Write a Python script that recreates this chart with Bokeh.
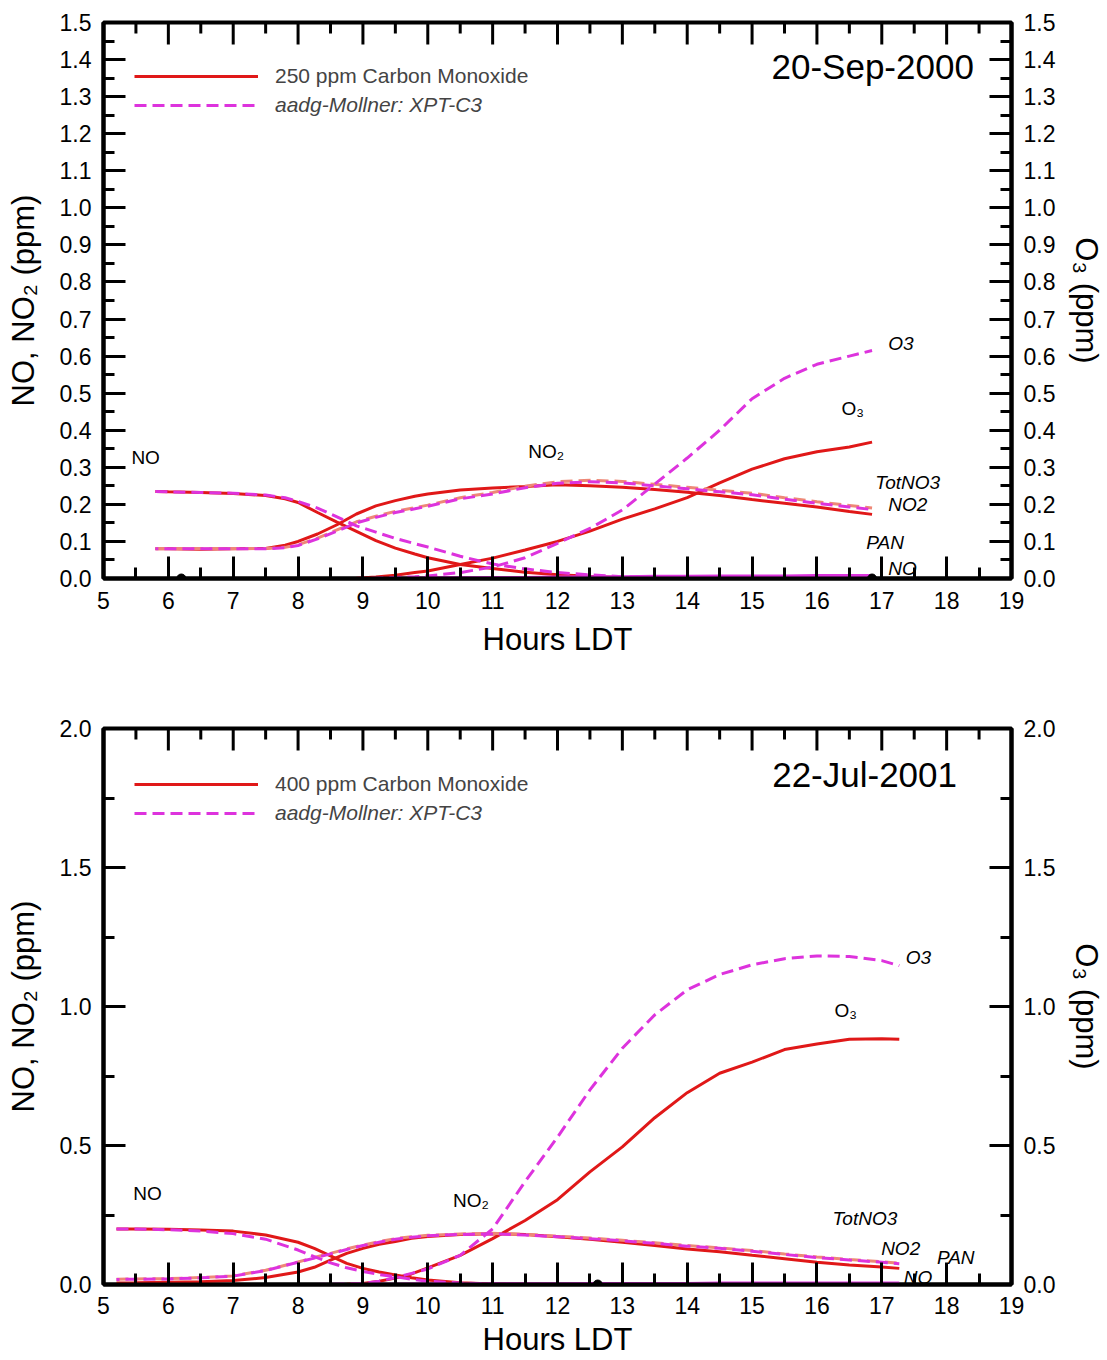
import math
from bokeh.plotting import figure
from bokeh.models import (Range1d, LinearAxis, FixedTicker, NumeralTickFormatter,
                          Legend, LegendItem)
from bokeh.layouts import column
from bokeh.embed import file_html
from bokeh.resources import INLINE
from bokeh.core.properties import value

FONT = "Liberation Sans"
RED = "#e01818"
MAGENTA = "#dd33dd"
SALMON = "#ee8877"

# ---------------- axis ticks ----------------
hour_ticks = [5, 6, 7, 8, 9, 10, 11, 12, 13, 14, 15, 16, 17, 18, 19]
hour_minor = [5.5, 6.5, 7.5, 8.5, 9.5, 10.5, 11.5, 12.5, 13.5, 14.5, 15.5, 16.5, 17.5, 18.5]
ppm_ticks_top = [0.0, 0.1, 0.2, 0.3, 0.4, 0.5, 0.6, 0.7, 0.8, 0.9, 1.0, 1.1, 1.2, 1.3, 1.4, 1.5]
ppm_minor_top = [0.05, 0.15, 0.25, 0.35, 0.45, 0.55, 0.65, 0.75, 0.85, 0.95, 1.05, 1.15, 1.25, 1.35, 1.45]
ppm_ticks_bot = [0.0, 0.5, 1.0, 1.5, 2.0]
ppm_minor_bot = [0.25, 0.75, 1.25, 1.75]

# ---------------- 20-Sep-2000 (250 ppm CO) ----------------
hours_a = [5.8, 6.0, 6.5, 7.0, 7.5, 7.8, 8.0, 8.3, 8.6, 8.9, 9.2, 9.5, 9.8, 10.0, 10.5,
           11.0, 11.5, 12.0, 12.5, 13.0, 13.5, 14.0, 14.5, 15.0, 15.5, 16.0, 16.5, 16.85]
obs_no_a = [0.235, 0.234, 0.232, 0.229, 0.224, 0.215, 0.205, 0.178, 0.152, 0.127, 0.102, 0.082,
            0.066, 0.056, 0.038, 0.027, 0.017, 0.010, 0.006, 0.003, 0.001, 0.0, 0.0, 0.0, 0.0,
            0.0, 0.0, 0.0]
obs_no2_a = [0.080, 0.080, 0.079, 0.080, 0.081, 0.090, 0.100, 0.120, 0.145, 0.174, 0.196, 0.210,
             0.222, 0.228, 0.239, 0.244, 0.248, 0.253, 0.250, 0.246, 0.240, 0.233, 0.224, 0.213,
             0.203, 0.193, 0.181, 0.173]
obs_o3_a = [0.0, 0.0, 0.0, 0.0, 0.0, 0.0, 0.0, 0.0, 0.0, 0.001, 0.004, 0.009, 0.016, 0.020, 0.038,
            0.055, 0.077, 0.100, 0.128, 0.160, 0.188, 0.218, 0.258, 0.295, 0.323, 0.342, 0.355,
            0.368]
mod_no_a = [0.235, 0.234, 0.232, 0.230, 0.225, 0.218, 0.208, 0.190, 0.166, 0.142, 0.125, 0.108,
            0.094, 0.085, 0.060, 0.039, 0.026, 0.016, 0.010, 0.005, 0.003, 0.002, 0.001, 0.001,
            0.001, 0.001, 0.001, 0.001]
mod_no2_a = [0.080, 0.080, 0.080, 0.080, 0.080, 0.083, 0.089, 0.107, 0.128, 0.150, 0.165, 0.178,
             0.188, 0.195, 0.215, 0.228, 0.245, 0.257, 0.261, 0.258, 0.250, 0.242, 0.234, 0.226,
             0.214, 0.203, 0.193, 0.186]
mod_totno3_a = [0.081, 0.081, 0.081, 0.081, 0.081, 0.084, 0.091, 0.109, 0.131, 0.153, 0.168, 0.181,
                0.191, 0.198, 0.218, 0.232, 0.249, 0.261, 0.265, 0.262, 0.254, 0.246, 0.238, 0.230,
                0.218, 0.207, 0.197, 0.190]
mod_o3_a = [0.0, 0.0, 0.0, 0.0, 0.0, 0.0, 0.0, 0.0, 0.0, 0.0, 0.001, 0.003, 0.005, 0.007, 0.016,
            0.031, 0.056, 0.095, 0.135, 0.185, 0.255, 0.325, 0.400, 0.485, 0.540, 0.578, 0.600,
            0.615]
mod_pan_a = [0.0, 0.0, 0.0, 0.0, 0.0, 0.0, 0.0, 0.0, 0.0, 0.0, 0.0, 0.001, 0.001, 0.002, 0.002,
             0.003, 0.003, 0.004, 0.005, 0.005, 0.006, 0.006, 0.007, 0.007, 0.007, 0.008, 0.008,
             0.008]
dots_hours_a = [6.2, 16.85]
dots_ppm_a = [0.0, 0.0]

# ---------------- 22-Jul-2001 (400 ppm CO) ----------------
hours_b = [5.2, 5.5, 6.0, 6.5, 7.0, 7.5, 8.0, 8.25, 8.5, 8.75, 9.0, 9.25, 9.5, 9.75, 10.0, 10.5,
           11.0, 11.5, 12.0, 12.5, 13.0, 13.5, 14.0, 14.5, 15.0, 15.5, 16.0, 16.5, 17.0, 17.27]
obs_no_b = [0.200, 0.200, 0.199, 0.196, 0.192, 0.178, 0.152, 0.130, 0.103, 0.076, 0.058, 0.045,
            0.034, 0.024, 0.016, 0.006, 0.002, 0.001, 0.0, 0.0, 0.0, 0.0, 0.0, 0.0, 0.0, 0.0,
            0.0, 0.0, 0.0, 0.0]
obs_no2_b = [0.005, 0.006, 0.008, 0.010, 0.014, 0.025, 0.045, 0.062, 0.088, 0.112, 0.130, 0.145,
             0.155, 0.166, 0.173, 0.180, 0.183, 0.180, 0.172, 0.163, 0.152, 0.140, 0.128, 0.118,
             0.105, 0.093, 0.080, 0.070, 0.063, 0.058]
obs_o3_b = [0.0, 0.0, 0.0, 0.0, 0.0, 0.0, 0.0, 0.0, 0.0, 0.001, 0.004, 0.012, 0.023, 0.038, 0.060,
            0.105, 0.165, 0.230, 0.305, 0.405, 0.495, 0.600, 0.690, 0.760, 0.800, 0.845, 0.865,
            0.882, 0.884, 0.882]
mod_no_b = [0.200, 0.200, 0.197, 0.192, 0.183, 0.163, 0.124, 0.100, 0.078, 0.060, 0.047, 0.036,
            0.028, 0.019, 0.012, 0.005, 0.002, 0.001, 0.0, 0.0, 0.0, 0.0, 0.0, 0.0, 0.0, 0.0,
            0.0, 0.0, 0.0, 0.0]
mod_no2_b = [0.018, 0.019, 0.020, 0.024, 0.030, 0.050, 0.080, 0.095, 0.110, 0.126, 0.140, 0.152,
             0.163, 0.170, 0.175, 0.180, 0.182, 0.178, 0.172, 0.165, 0.157, 0.148, 0.138, 0.130,
             0.120, 0.108, 0.097, 0.088, 0.080, 0.075]
mod_totno3_b = [0.019, 0.020, 0.021, 0.025, 0.031, 0.051, 0.081, 0.097, 0.112, 0.128, 0.142, 0.154,
                0.165, 0.172, 0.177, 0.182, 0.184, 0.180, 0.174, 0.167, 0.159, 0.150, 0.140, 0.132,
                0.122, 0.110, 0.099, 0.090, 0.082, 0.077]
mod_o3_b = [0.0, 0.0, 0.0, 0.0, 0.0, 0.0, 0.0, 0.0, 0.001, 0.002, 0.004, 0.012, 0.025, 0.040, 0.056,
            0.105, 0.200, 0.370, 0.530, 0.700, 0.850, 0.970, 1.060, 1.115, 1.150, 1.172, 1.182,
            1.180, 1.165, 1.147]
mod_pan_b = [0.0, 0.0, 0.0, 0.0, 0.0, 0.0, 0.0, 0.0, 0.0, 0.0, 0.001, 0.001, 0.001, 0.002, 0.002,
             0.002, 0.003, 0.003, 0.003, 0.004, 0.004, 0.004, 0.004, 0.005, 0.005, 0.005, 0.005,
             0.005, 0.005, 0.005]
dots_hours_b = [12.62]
dots_ppm_b = [0.0]

# ---------------- text labels ----------------
lab_a_plain = ["NO", "NO\u2082", "O\u2083"]
lab_a_plain_x = [5.43, 11.55, 16.38]
lab_a_plain_y = [0.326, 0.343, 0.459]
lab_a_ital = ["O3", "TotNO3", "NO2", "PAN", "NO"]
lab_a_ital_x = [17.1, 16.9, 17.1, 16.76, 17.1]
lab_a_ital_y = [0.634, 0.259, 0.200, 0.097, 0.027]

lab_b_plain = ["NO", "NO\u2082", "O\u2083"]
lab_b_plain_x = [5.46, 10.39, 16.27]
lab_b_plain_y = [0.327, 0.302, 0.985]
lab_b_ital = ["O3", "TotNO3", "NO2", "PAN", "NO"]
lab_b_ital_x = [17.37, 16.24, 16.99, 17.85, 17.34]
lab_b_ital_y = [1.176, 0.237, 0.129, 0.097, 0.025]


def make_panel(height, top_border, bottom_border, xlab_standoff, xaxis_standoff, ymax, yticks,
               yminor, hours, obs_no, obs_no2, obs_o3, mod_no, mod_no2, mod_tot, mod_o3,
               mod_pan, dots_x, dots_y, date, date_x, date_y, co_label, plain, plain_x,
               plain_y, ital, ital_x, ital_y, leg_y1, leg_y2):
    p = figure(width=1107, height=height, output_backend="svg", toolbar_location=None,
               x_range=Range1d(5, 19), y_range=Range1d(0, ymax),
               min_border_left=103, min_border_right=92, min_border_top=top_border,
               min_border_bottom=bottom_border, x_axis_location=None, y_axis_location=None)
    p.xgrid.visible = False
    p.ygrid.visible = False
    p.outline_line_color = "black"
    p.outline_line_width = 4
    p.background_fill_color = "white"
    p.border_fill_color = "white"

    def style(ax):
        ax.axis_line_width = 4
        ax.axis_line_color = "black"
        ax.major_tick_in = 22
        ax.major_tick_out = 0
        ax.minor_tick_in = 11
        ax.minor_tick_out = 0
        ax.major_tick_line_width = 3
        ax.minor_tick_line_width = 3
        ax.major_label_text_font = FONT
        ax.major_label_text_font_size = "23px"
        ax.major_label_text_color = "black"
        ax.major_label_standoff = 12
        ax.axis_label_text_font = FONT
        ax.axis_label_text_font_size = "31px"
        ax.axis_label_text_font_style = "normal"
        ax.axis_label_text_color = "black"

    xt = FixedTicker(ticks=hour_ticks, minor_ticks=hour_minor)
    yt = FixedTicker(ticks=yticks, minor_ticks=yminor)

    xb = LinearAxis(ticker=xt, formatter=NumeralTickFormatter(format="0"),
                    axis_label="Hours LDT")
    style(xb)
    xb.major_label_standoff = xlab_standoff
    xb.axis_label_standoff = xaxis_standoff
    p.add_layout(xb, "below")

    yl = LinearAxis(ticker=yt, formatter=NumeralTickFormatter(format="0.0"),
                    axis_label="NO, NO\u2082 (ppm)")
    style(yl)
    yl.axis_label_standoff = 16
    p.add_layout(yl, "left")

    yr = LinearAxis(ticker=yt, formatter=NumeralTickFormatter(format="0.0"),
                    axis_label="O\u2083 (ppm)")
    style(yr)
    yr.axis_label_standoff = 11
    p.add_layout(yr, "right")

    # inward tick marks along the top edge of the frame
    p.ray(x=hour_ticks, y=[ymax] * len(hour_ticks), length=22, length_units="screen",
          angle=-math.pi / 2, line_color="black", line_width=3)
    p.ray(x=hour_minor, y=[ymax] * len(hour_minor), length=11, length_units="screen",
          angle=-math.pi / 2, line_color="black", line_width=3)

    # observations (solid red)
    r_obs = p.line(hours, obs_no, line_color=RED, line_width=3)
    p.line(hours, obs_no2, line_color=RED, line_width=3)
    p.line(hours, obs_o3, line_color=RED, line_width=3)
    # model (dashed)
    p.line(hours, mod_pan, line_color=MAGENTA, line_width=3)
    p.line(hours, mod_tot, line_color=SALMON, line_width=3, line_dash="12 6")
    p.line(hours, mod_no2, line_color=MAGENTA, line_width=3, line_dash="12 6",
           line_dash_offset=9)
    r_mod = p.line(hours, mod_no, line_color=MAGENTA, line_width=3, line_dash="12 6")
    p.line(hours, mod_o3, line_color=MAGENTA, line_width=3, line_dash="12 6")
    p.scatter(dots_x, dots_y, size=9, color="black")

    p.text(x=plain_x, y=plain_y, text=plain, text_font=value(FONT), text_font_size="19px",
           text_baseline="middle", text_align="left", text_color="black")
    p.text(x=ital_x, y=ital_y, text=ital, text_font=value(FONT), text_font_size="19px",
           text_font_style="italic", text_baseline="middle", text_align="left",
           text_color="black")
    p.text(x=[date_x], y=[date_y], text=[date], text_font=value(FONT), text_font_size="35px",
           text_baseline="middle", text_align="right", text_color="black")

    common = dict(glyph_width=124, glyph_height=24, label_height=24, label_standoff=17,
                  padding=0, margin=0, border_line_color=None, background_fill_alpha=0,
                  label_text_font=FONT, label_text_font_size="21px", spacing=0)
    leg1 = Legend(items=[LegendItem(label=co_label, renderers=[r_obs])],
                  location=(31, leg_y1), label_text_font_style="normal", **common)
    leg2 = Legend(items=[LegendItem(label="aadg-Mollner: XPT-C3", renderers=[r_mod])],
                  location=(31, leg_y2), label_text_font_style="italic", **common)
    p.add_layout(leg1)
    p.add_layout(leg2)
    return p


p1 = make_panel(670, 22, 92, 13, 10, 1.5, ppm_ticks_top, ppm_minor_top, hours_a, obs_no_a,
                obs_no2_a, obs_o3_a, mod_no_a, mod_no2_a, mod_totno3_a, mod_o3_a, mod_pan_a,
                dots_hours_a, dots_ppm_a, "20-Sep-2000", 18.42, 1.381,
                "250 ppm Carbon Monoxide", lab_a_plain, lab_a_plain_x, lab_a_plain_y,
                lab_a_ital, lab_a_ital_x, lab_a_ital_y, 490, 461)
p2 = make_panel(689, 58, 75, 12, 5, 2.0, ppm_ticks_bot, ppm_minor_bot, hours_b, obs_no_b,
                obs_no2_b, obs_o3_b, mod_no_b, mod_no2_b, mod_totno3_b, mod_o3_b, mod_pan_b,
                dots_hours_b, dots_ppm_b, "22-Jul-2001", 18.16, 1.835,
                "400 ppm Carbon Monoxide", lab_b_plain, lab_b_plain_x, lab_b_plain_y,
                lab_b_ital, lab_b_ital_x, lab_b_ital_y, 488, 459)

layout = column(p1, p2, spacing=0)
open("out.html", "w").write(file_html(layout, INLINE))
